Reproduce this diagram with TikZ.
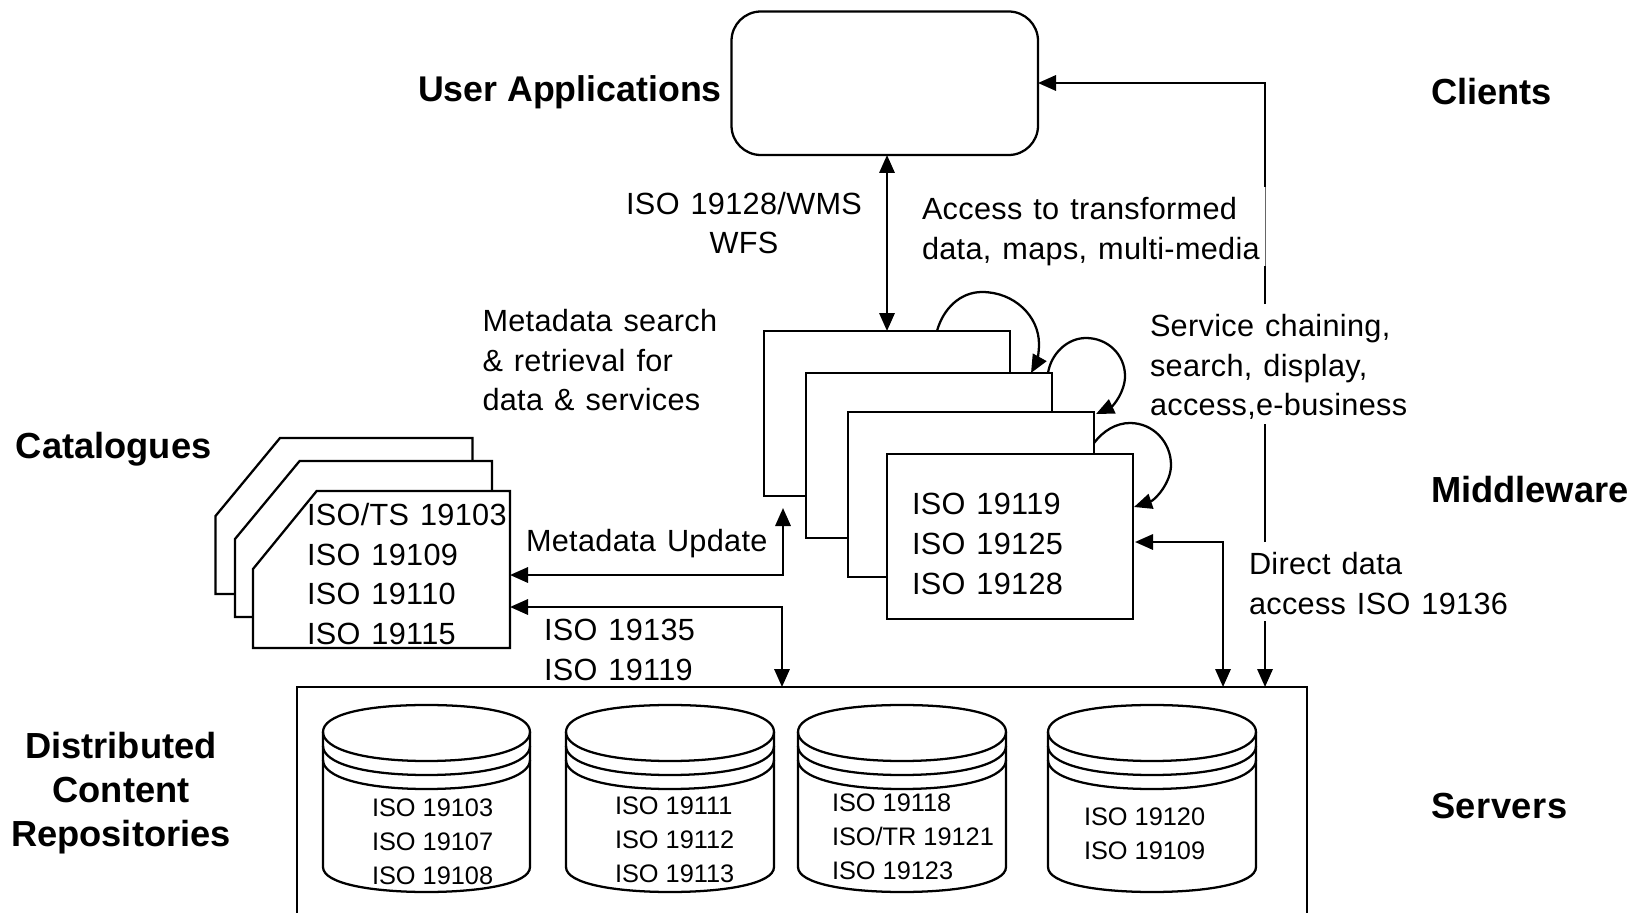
\documentclass[tikz,border=0pt]{standalone}
\usepackage{fontspec}
\setmainfont{Liberation Sans}
\newfontfamily\regfam[LetterSpace=1,WordSpace=1.25]{Liberation Sans}
\newfontfamily\headwide[LetterSpace=1.5]{Liberation Sans}
\usetikzlibrary{arrows.meta}
\newcommand{\regfont}{\regfam\fontsize{23pt}{29.7pt}\selectfont}
\newcommand{\cylfont}{\fontsize{19pt}{25.5pt}\selectfont}
\newcommand{\headfont}{\fontsize{27.2pt}{33.2pt}\selectfont\bfseries}
\newcommand{\headwidefont}{\headwide\fontsize{27.2pt}{33.2pt}\selectfont\bfseries}
\newcommand{\headtightfont}{\fontsize{26.8pt}{33.2pt}\selectfont\bfseries}
\tikzset{
  x=0.75pt,y=-0.75pt,
  every node/.style={inner sep=0pt,outer sep=0pt},
  ln/.style={draw=black,line width=1.7pt,line join=miter},
  conn/.style={draw=black,line width=1.7pt},
  tip/.tip={Triangle[length=13.5pt,width=11.5pt]},
  arr/.style={conn,-{tip}},
  darr/.style={conn,{tip}-{tip}},
  lbl/.style={anchor=base west,font=\regfont},
  mlbl/.style={anchor=north west,font=\regfont,align=left},
  cbl/.style={anchor=north west,font=\cylfont,align=left},
  hd/.style={anchor=base west,font=\headfont},
  card/.style={ln,fill=white},
  layer/.style={ln,fill=white,anchor=north west,minimum width=246*0.75pt,minimum height=165*0.75pt},
}
\newcommand{\cyl}[2]{% #1 left x, #2 right x
  \path[ln,fill=white] (#1,732) .. controls (#1,715) and ({#1+40},705) .. ({(#1+#2)/2},705)
    .. controls ({#2-40},705) and (#2,715) .. (#2,732)
    -- (#2,867) .. controls (#2,884) and ({#2-50},892) .. ({(#1+#2)/2},892)
    .. controls ({#1+50},892) and (#1,884) .. (#1,867) -- cycle;
  \foreach \dy in {0,14,28}{
    \draw[ln] (#1,{732+\dy}) .. controls (#1,{749+\dy}) and ({#1+40},{761+\dy}) .. ({(#1+#2)/2},{761+\dy})
      .. controls ({#2-40},{761+\dy}) and (#2,{749+\dy}) .. (#2,{732+\dy});
  }
}
\begin{document}
\begin{tikzpicture}
\useasboundingbox (0,0) rectangle (1634,913);
% big box, running off the bottom
\begin{scope}
\clip (0,0) rectangle (1634,913);
\coordinate (rTL) at (297,687);
\coordinate (rTR) at (1307,687);
\draw[ln] (297,930) -- (rTL) -- (rTR) -- (1307,930);
\end{scope}
\cyl{323}{530}
\cyl{566}{774}
\cyl{798}{1006}
\cyl{1048}{1256}
\node[cbl] (c1) at (372,799) {ISO 19103\\ISO 19107\\ISO 19108};
\node[cbl] (c2) at (615,797) {ISO 19111\\ISO 19112\\ISO 19113};
\node[cbl] (c3) at (832,794) {ISO 19118\\ISO/TR 19121\\ISO 19123};
\node[cbl] (c4) at (1084,808) {ISO 19120\\ISO 19109};
% user box
\node[ln,rounded corners=22pt,anchor=north west,minimum width=306.5*0.75pt,minimum height=143.5*0.75pt] (user) at (731.5,11.5) {};
% layers
\node[layer] (b1) at (764,331) {};
\node[layer] (b2) at (806,373) {};
\node[layer] (b3) at (848,412) {};
\node[layer,minimum height=165*0.75pt] (b4) at (887,454) {};
\node[mlbl] (b4t) at (912,493.5) {ISO 19119\\ISO 19125\\ISO 19128};
% catalogue cards
\draw[card] (472.6,461) -- (472.6,438) -- (280,438) -- (215.5,516) -- (215.5,594) -- (235,594);
\draw[card] (492,491) -- (492,461) -- (299.6,461) -- (235,539) -- (235,617) -- (253,617);
\draw[card] (316.7,491) -- (510,491) -- (510,648) coordinate (cardBR) -- (253,648) -- (253,569) -- cycle;
\coordinate (cardE1) at (510,575);
\coordinate (cardE2) at (510,607);
\node[mlbl] (cardt) at (307,503.5) {ISO/TS 19103\\ISO 19109\\ISO 19110\\ISO 19115};
% self loops
\coordinate (l1s) at (937,331); \coordinate (l1e) at (1031,373);
\coordinate (l2s) at (1048,373); \coordinate (l2e) at (1096,414);
\coordinate (l3s) at (1094,443); \coordinate (l3e) at (1134,507);
\draw[arr] (l1s) .. controls (943,309) and (960,292) .. (982,292) .. controls (1014,292) and (1039,316) .. (1039,344) .. controls (1039,355) and (1036,364) .. (l1e);
\draw[arr] (l2s) .. controls (1051,354) and (1067,338) .. (1086,338) .. controls (1108,338) and (1125,355) .. (1125,376) .. controls (1125,392) and (1113,406) .. (l2e);
\draw[arr] (l3s) .. controls (1103,431) and (1116,423) .. (1130,423) .. controls (1153,423) and (1171,442) .. (1171,465) .. controls (1171,483) and (1155,500) .. (l3e);
% connectors
\draw[darr] (user.south -| 887,0) -- (887,331);
\draw[darr] (1135,542) -- (1223,542) -- (1223,687);
\draw[darr] (cardE1) -- (783,575) -- (783,508);
\draw[darr] (cardE2) -- (782,607) -- (782,687);
% long line with gaps
\coordinate (g0) at (1265,687);
\coordinate (g1) at (1265,621);
\coordinate (g2) at (1265,542);
\coordinate (g3) at (1265,424);
\coordinate (g4) at (1265,304);
\coordinate (g4a) at (1265,266);
\coordinate (g4b) at (1265,187);
\coordinate (g5) at (1265,83);
\draw[arr] (g1) -- (g0);
\draw[conn] (g2) -- (g3);
\draw[conn] (g4) -- (g4a);
\draw[draw=black!60,line width=0.6pt] (g4a) -- (g4b);
\draw[arr] (g4b) -- (g5) -- (user.east |- g5);
% labels
\node[hd,font=\headtightfont] (ua) at (418,102) {User Applications};
\node[hd] (cli) at (1431,105) {Clients};
\node[hd] (mid) at (1431,502) {Middleware};
\node[hd,font=\headwidefont] (srv) at (1431,818) {Servers};
\node[hd] (cat) at (16,458) {Catalogues};
\node[anchor=north,font=\headfont,align=center] (dcr) at (121,732) {Distributed\\Content\\Repositories};
\node[anchor=north,font=\regfont,align=center] (l1) at (744,192) {ISO 19128/WMS\\WFS};
\node[mlbl] (l2) at (922,197.5) {Access to transformed\\data, maps, multi-media};
\node[mlbl] (l3) at (482.5,309.5) {Metadata search\\\& retrieval for\\data \& services};
\node[mlbl] (l4) at (1150,314.5) {Service chaining,\\search, display,\\access,e-business};
\node[lbl] (l5) at (526,551) {Metadata Update};
\node[mlbl] (l6) at (544,619.5) {ISO 19135\\ISO 19119};
\node[mlbl] (l7) at (1249,552.5) {Direct data\\access ISO 19136};
\end{tikzpicture}
\end{document}
